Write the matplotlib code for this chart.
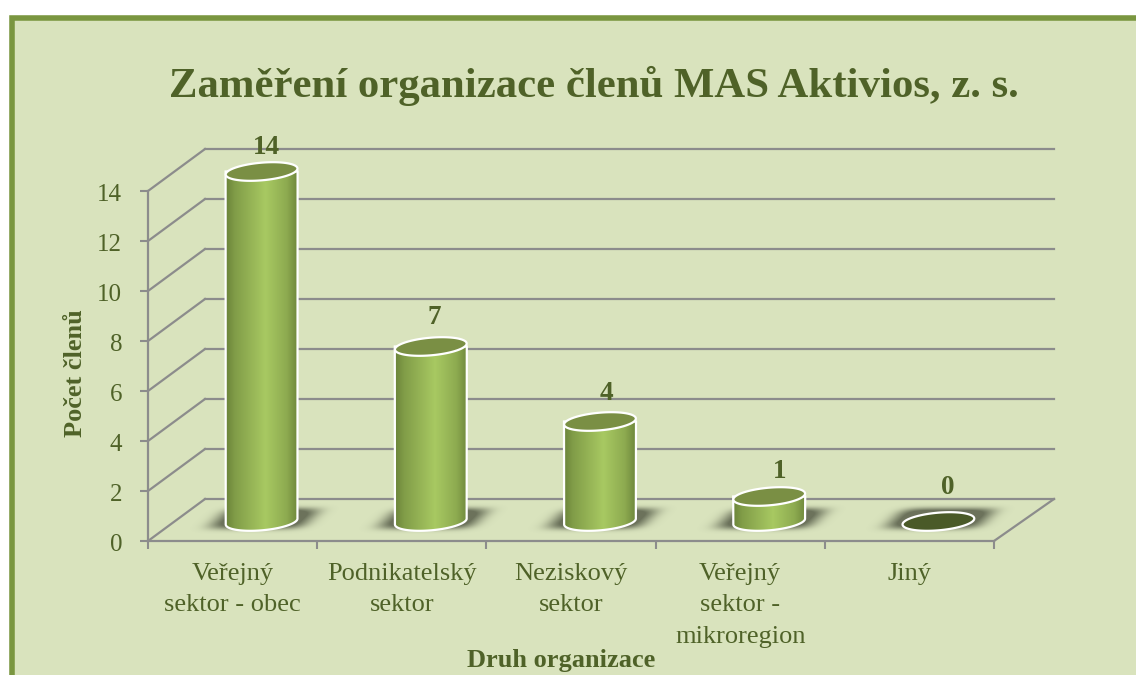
import numpy as np
import matplotlib
matplotlib.use("Agg")
import matplotlib.pyplot as plt
from matplotlib.patches import Rectangle, PathPatch
from matplotlib.path import Path
from matplotlib.transforms import ScaledTranslation

categories = ["Veřejný\nsektor - obec", "Podnikatelský\nsektor", "Neziskový\nsektor",
              "Veřejný\nsektor -\nmikroregion", "Jiný"]
values = [14, 7, 4, 1, 0]
yticks = [0, 2, 4, 6, 8, 10, 12, 14]

title = "Zaměření organizace členů MAS Aktivios, z. s."
xlabel = "Druh organizace"
ylabel = "Počet členů"

BG = "#d9e3bd"
FRAME = "#7a9640"
DARK = "#4f6228"
GRID = "#8c8c8c"

W, H = 1136, 675
plt.rcParams["font.family"] = ["Liberation Serif", "DejaVu Serif"]

fig = plt.figure(figsize=(W / 100, H / 100), dpi=100, facecolor="white")

# background panel in pixel coordinates
bg = fig.add_axes([0, 0, 1, 1])
bg.set_xlim(0, W)
bg.set_ylim(H, 0)
bg.axis("off")
bg.add_patch(Rectangle((11.8, 17.6), W + 20, H + 20, fc=BG, ec=FRAME, lw=4))

# front plane of the 3d box
L, R, T, B = 148, 994, 191, 541
ax = fig.add_axes([L / W, 1 - B / H, (R - L) / W, (B - T) / H])
ax.patch.set_visible(False)
ax.set_xlim(0, 5)
ax.set_ylim(0, 14)
for s in ["top", "right"]:
    ax.spines[s].set_visible(False)
for s in ["left", "bottom"]:
    ax.spines[s].set_color(GRID)
    ax.spines[s].set_linewidth(1.6)

px = 5 / (R - L)   # data units per pixel, x
py = 14 / (B - T)  # data units per pixel, y
DX = 57 * px
DY = 42 * py

ax.set_xticks(range(6))
ax.set_xticklabels([""] * 6)
ax.set_xticks(np.arange(5) + 0.5, categories, minor=True)
ax.tick_params(axis="x", which="major", length=6, width=1.5, color=GRID)
ax.tick_params(axis="x", which="minor", length=0, pad=15.5, labelsize=19, labelcolor=DARK)
ax.set_yticks(yticks)
ax.tick_params(axis="y", length=6, width=1.5, color=GRID, pad=12.5, labelsize=18, labelcolor=DARK)
for lab in ax.get_xticklabels(minor=True):
    lab.set_linespacing(1.57)
nudge = ScaledTranslation(0, -1.5 / 100, fig.dpi_scale_trans)
for lab in ax.get_yticklabels():
    lab.set_transform(lab.get_transform() + nudge)

# side wall, back wall lines and floor edge
xback = 5 + DX + 3 * px
for v in yticks:
    ax.plot([0, DX], [v, v + DY], color=GRID, lw=1.6, clip_on=False, zorder=1)
    ax.plot([DX, xback], [v + DY, v + DY], color=GRID, lw=1.6, clip_on=False, zorder=1)
ax.plot([5, xback], [0, DY], color=GRID, lw=1.6, clip_on=False, zorder=1)

# cylinders
body_cols = np.interp(np.linspace(0, 1, 64), [0, 0.12, 0.55, 0.85, 1], [0, 0.35, 1, 0.55, 0.05])
low = np.array([0x6c, 0x85, 0x3a]) / 255
high = np.array([0xa8, 0xc9, 0x62]) / 255
body_img = np.array([[low + (high - low) * c for c in body_cols]])

RX, RY = 36, 8.8   # ellipse radii, pixels
TILT = np.deg2rad(5)
t = np.linspace(0, 2 * np.pi, 121)

# small nudges of the value labels, pixels
label_dx = [5, 3, 6, 10, 9]
label_dy = [12, 17, 16, 12, 21]


def ellipse(cx, cy):
    ex = RX * np.cos(t) * np.cos(TILT) + RY * np.sin(t) * np.sin(TILT)
    ey = RX * np.cos(t) * np.sin(TILT) - RY * np.sin(t) * np.cos(TILT)
    return cx + ex * px, cy + ey * py


def shadow(cx, cy):
    # soft skewed smear under each cylinder
    x0, x1 = cx - 80 * px, cx + 80 * px
    y0, y1 = cy - 24 * py, cy + 26 * py
    xx, yy = np.meshgrid(np.linspace(-80, 80, 160), np.linspace(-24, 26, 50))
    u = (xx - yy * 1.0) / 47
    v = (yy - 2.5) / 10.5
    a = np.clip(1.5 * np.exp(-(np.abs(u) ** 5 + np.abs(v) ** 4)), 0, 1)
    rgba = np.zeros(a.shape + (4,))
    rgba[..., :3] = np.array([0x58, 0x5e, 0x4a]) / 255
    rgba[..., 3] = a * 0.85
    ax.imshow(rgba, extent=(x0, x1, y0, y1), origin="lower", aspect="auto", zorder=2,
              clip_on=False, interpolation="bilinear")


for i, val in enumerate(values):
    cx = i + 0.5 + DX / 2 + 0.5 * px
    cy = DY / 2 - 1.5 * py
    top = val + cy
    shadow(cx, cy)

    tx, ty = ellipse(cx, top)
    bx, by = ellipse(cx, cy)
    if val > 0:
        # body: lower half of bottom ellipse joined to the upper rim
        lower = np.sin(t) > 0
        order = np.argsort(bx[lower])
        xs = np.r_[cx - RX * px, bx[lower][order], cx + RX * px]
        ys = np.r_[top, by[lower][order], top]
        verts = np.column_stack([np.r_[xs, xs[0]], np.r_[ys, ys[0]]])
        outline = Path(verts, closed=True)
        im = ax.imshow(body_img, extent=(cx - RX * px, cx + RX * px, cy - 2 * RY * py, top),
                       aspect="auto", zorder=3, interpolation="bilinear")
        patch = PathPatch(outline, fc="none", ec="white", lw=1.6, zorder=4, clip_on=False)
        ax.add_patch(patch)
        im.set_clip_path(patch)
        im.set_clip_box(fig.bbox)
        ax.fill(tx, ty, fc="#7a8f44", ec="white", lw=1.6, zorder=5, clip_on=False)
    else:
        ax.fill(tx, ty, fc="#4a5a28", ec="white", lw=1.6, zorder=5, clip_on=False)
    ax.text(cx + label_dx[i] * px, top + label_dy[i] * py, str(val), ha="center", va="bottom",
            fontsize=19.5, fontweight="bold", color=DARK, zorder=6)

ax.set_xlim(0, 5)
ax.set_ylim(0, 14)

fig.text(594 / W, 1 - 86 / H, title, ha="center", va="center", fontsize=30.8,
         fontweight="bold", color=DARK)
fig.text(561 / W, 1 - 660 / H, xlabel, ha="center", va="center", fontsize=19,
         fontweight="bold", color=DARK)
fig.text(76 / W, 1 - 373 / H, ylabel, ha="center", va="center", rotation=90, fontsize=19,
         fontweight="bold", color=DARK)

fig.savefig("out.png", dpi=100)
